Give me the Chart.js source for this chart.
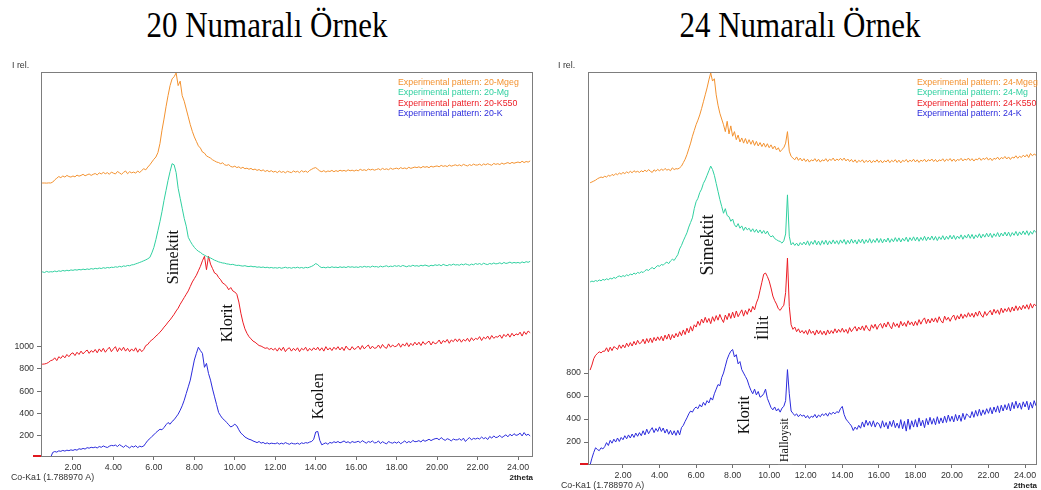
<!DOCTYPE html>
<html>
<head>
<meta charset="utf-8">
<script src="https://cdn.jsdelivr.net/npm/chart.js"></script>
<style>
  body { margin: 0; background: #fff; width: 1041px; height: 490px; overflow: hidden; position: relative; }
  .title { position: absolute; top: 5px; font-family: "Liberation Serif", "Times New Roman", serif; font-size: 31px; color: #000;
           text-align: center; white-space: nowrap; transform: scaleY(1.14); transform-origin: top; }
  canvas { position: absolute; }
</style>
</head>
<body>
<div class="title" style="left:117px;width:300px">20 Numaralı Örnek</div>
<div class="title" style="left:650px;width:300px">24 Numaralı Örnek</div>
<canvas id="c20" width="540" height="435" style="left:0;top:55px"></canvas>
<canvas id="c24" width="496" height="435" style="left:545px;top:55px"></canvas>
<script>
// 2theta grid, 0.2 .. 24.6 step 0.1
var twoTheta = []
for (let i = 0; i < 245; i++) twoTheta.push(Math.round((0.2 + i * 0.1) * 10) / 10)

const xTicks = [2, 4, 6, 8, 10, 12, 14, 16, 18, 20, 22, 24]
const yTicks20 = [200, 400, 600, 800, 1000]
const yTicks24 = [200, 400, 600, 800]

const names20 = ['Experimental pattern: 20-Mgeg', 'Experimental pattern: 20-Mg', 'Experimental pattern: 20-K550', 'Experimental pattern: 20-K']
const names24 = ['Experimental pattern: 24-Mgeg', 'Experimental pattern: 24-Mg', 'Experimental pattern: 24-K550', 'Experimental pattern: 24-K']
const colors = ['#f39230', '#30d0a0', '#ec1c24', '#2b2bdc']

// ---- sample 20 ----
const mgeg20 = [
  2465,2465,2466,2467,2467,2466,2468,2467,
  2475,2495,2510,2525,2515,2530,2520,2535,2525,2520,
  2530,2522,2538,2528,2535,2545,2532,2540,2548,2535,
  2545,2552,2540,2558,2548,2562,2550,2560,2545,2565,
  2555,2548,2570,2558,2545,2562,2575,2550,2568,2558,
  2565,2555,2575,2560,2580,2595,2585,2610,2630,2655,
  2680,2700,2740,2820,2940,3040,3150,3250,3340,3400,
  3420,3453,3340,3380,3250,3200,3130,3060,2990,2930,
  2880,2840,2800,2780,2745,2735,2710,2700,2690,2675,
  2665,2655,2650,2640,2648,2630,2625,2632,2615,2610,
  2618,2605,2612,2598,2608,2595,2600,2590,2598,2585,
  2592,2580,2588,2575,2585,2570,2580,2568,2578,2565,
  2572,2560,2575,2562,2570,2558,2572,2565,2560,2575,
  2565,2572,2560,2578,2566,2574,2562,2580,2590,2600,
  2605,2590,2575,2568,2578,2565,2575,2570,2580,2568,
  2578,2570,2582,2574,2580,2572,2585,2576,2582,2574,
  2583,2576,2590,2580,2586,2578,2592,2584,2590,2582,
  2588,2595,2584,2598,2588,2594,2586,2600,2590,2596,
  2600,2592,2605,2596,2602,2594,2608,2598,2604,2610,
  2605,2612,2602,2615,2608,2614,2604,2618,2610,2616,
  2620,2612,2625,2616,2622,2614,2628,2618,2624,2630,
  2622,2630,2620,2634,2626,2620,2632,2624,2636,2628,
  2628,2636,2624,2638,2630,2640,2632,2626,2642,2634,
  2640,2632,2646,2636,2644,2650,2640,2652,2644,2650,
  2655,2648,2662,2650,2660,2654,2665
]
const mg20 = [
  1665,1665,1668,1670,1665,1675,1668,1672,
  1670,1678,1672,1680,1675,1683,1678,1685,1680,1688,
  1684,1690,1686,1692,1688,1695,1690,1697,1692,1700,
  1695,1702,1698,1705,1700,1708,1703,1710,1706,1712,
  1710,1716,1712,1720,1715,1724,1720,1728,1725,1733,
  1735,1742,1748,1755,1762,1770,1778,1788,1800,1840,
  1890,1960,2040,2120,2210,2310,2400,2490,2570,2640,
  2630,2560,2420,2330,2240,2150,2080,1980,1945,1915,
  1890,1870,1855,1845,1830,1820,1810,1800,1795,1785,
  1775,1768,1760,1755,1750,1748,1742,1740,1735,1738,
  1732,1728,1730,1725,1722,1726,1720,1718,1722,1716,
  1718,1712,1715,1710,1714,1708,1712,1706,1710,1705,
  1708,1704,1710,1703,1707,1712,1705,1709,1703,1710,
  1706,1712,1705,1710,1704,1711,1707,1713,1720,1730,
  1745,1735,1718,1708,1712,1706,1714,1708,1716,1710,
  1713,1708,1716,1710,1715,1709,1718,1712,1716,1711,
  1715,1710,1718,1712,1720,1714,1718,1712,1722,1716,
  1718,1712,1722,1715,1720,1725,1716,1722,1718,1726,
  1720,1726,1718,1728,1722,1716,1725,1720,1730,1722,
  1726,1720,1730,1724,1732,1726,1720,1730,1725,1734,
  1728,1735,1725,1738,1730,1726,1736,1730,1740,1732,
  1735,1730,1740,1733,1742,1736,1730,1740,1734,1745,
  1738,1745,1735,1748,1740,1736,1746,1740,1750,1742,
  1745,1752,1742,1755,1746,1750,1758,1748,1755,1750,
  1755,1748,1760,1752,1762,1756,1765
]
const k550_20 = [
  840,840,842,843,845,850,860,875,
  880,900,875,910,895,920,900,930,910,935,
  945,920,950,930,960,935,955,970,940,965,
  950,975,945,980,955,985,950,975,995,955,
  980,1000,955,990,965,995,960,985,955,980,
  960,990,950,980,955,975,1010,1020,1045,1060,
  1075,1095,1110,1130,1150,1175,1195,1220,1240,1265,
  1290,1320,1345,1380,1410,1440,1470,1500,1540,1580,
  1610,1640,1680,1720,1770,1810,1690,1810,1740,1700,
  1660,1650,1620,1600,1570,1560,1540,1510,1530,1500,
  1490,1470,1400,1300,1220,1160,1120,1090,1070,1050,
  1040,1025,1010,1005,995,985,990,975,985,970,
  985,960,990,965,995,955,980,990,960,985,
  965,990,955,985,970,995,960,985,965,990,
  970,995,965,990,960,1000,970,990,965,995,
  975,1000,970,995,965,1005,980,970,1000,975,
  985,1005,975,1010,980,1000,1015,980,1005,985,
  990,1015,985,1020,995,985,1025,995,1015,1000,
  1005,1030,995,1025,1005,1035,1000,1030,1010,1040,
  1015,1040,1010,1045,1020,1035,1050,1015,1045,1025,
  1035,1060,1025,1055,1040,1065,1030,1060,1045,1070,
  1045,1070,1040,1065,1050,1075,1045,1080,1055,1075,
  1065,1090,1055,1085,1070,1095,1065,1100,1075,1090,
  1085,1105,1075,1110,1090,1115,1085,1120,1095,1115,
  1105,1130,1095,1135,1110,1140,1125
]
const k20 = [
  null,null,null,null,null,null,null,8,
  52,60,55,66,62,70,64,72,68,75,
  70,78,72,85,80,88,82,95,90,98,
  94,100,92,105,98,110,102,96,108,115,
  112,118,105,122,110,98,115,104,92,108,
  100,112,95,108,102,110,135,160,175,195,
  210,230,245,260,255,275,300,320,305,330,
  345,370,395,430,470,520,580,640,700,790,
  880,940,995,965,940,815,850,760,700,620,
  550,480,410,380,355,340,320,300,280,290,
  305,290,255,225,210,190,180,170,165,155,
  148,140,150,135,142,130,138,128,135,132,
  130,138,126,135,128,140,132,125,136,130,
  128,135,125,138,132,140,136,145,150,170,
  235,240,160,120,130,138,125,142,135,148,
  140,150,138,145,155,140,148,135,150,142,
  145,152,140,158,146,135,150,142,155,138,
  140,155,132,148,138,128,150,140,135,145,
  135,148,130,142,155,138,150,140,160,148,
  150,158,145,165,152,160,170,158,168,175,
  178,165,185,170,160,175,168,155,172,165,
  165,175,160,180,150,170,185,165,178,172,
  180,172,190,175,185,168,195,180,200,185,
  190,205,185,198,210,192,215,200,220,205,
  210,225,200,230,205,215,200
]

// ---- sample 24 ----
const mgeg24 = [
  2455,2462,2470,2478,2490,2498,2505,2500,
  2512,2505,2520,2512,2528,2518,2535,2525,2540,2530,
  2545,2535,2550,2540,2555,2542,2560,2548,2555,2545,
  2560,2550,2565,2552,2570,2555,2545,2568,2555,2572,
  2558,2575,2562,2580,2565,2572,2560,2585,2570,2578,
  2575,2585,2600,2630,2660,2700,2750,2800,2860,2910,
  2960,3000,3045,3100,3160,3220,3280,3350,3410,3340,
  3360,3220,3130,3060,3010,2960,2900,2990,2880,2950,
  2860,2900,2830,2870,2810,2845,2800,2840,2795,2830,
  2790,2825,2780,2815,2775,2805,2770,2800,2765,2795,
  2760,2785,2750,2775,2740,2760,2725,2745,2760,2800,
  2900,2730,2685,2670,2655,2680,2650,2670,2645,2665,
  2640,2660,2635,2655,2645,2665,2640,2660,2635,2655,
  2645,2665,2640,2660,2650,2670,2645,2662,2650,2668,
  2650,2670,2645,2662,2640,2658,2635,2655,2630,2650,
  2638,2655,2630,2650,2635,2652,2628,2648,2635,2655,
  2632,2650,2628,2648,2636,2655,2630,2650,2638,2656,
  2632,2652,2628,2650,2640,2658,2634,2652,2640,2660,
  2636,2655,2632,2652,2642,2660,2636,2656,2645,2662,
  2640,2658,2636,2655,2646,2664,2640,2660,2648,2666,
  2642,2662,2640,2658,2650,2668,2645,2662,2652,2670,
  2648,2665,2644,2662,2655,2672,2650,2668,2658,2675,
  2652,2670,2648,2668,2660,2678,2656,2675,2665,2684,
  2662,2680,2658,2678,2670,2690,2668,2686,2675,2695,
  2680,2700,2675,2710,2690,2705,2695
]
const mg24 = [
  1592,1600,1595,1605,1598,1610,1602,1615,
  1608,1620,1612,1625,1618,1632,1624,1638,1645,1636,
  1648,1640,1655,1646,1662,1654,1670,1660,1676,1668,
  1682,1674,1690,1700,1692,1708,1718,1705,1722,1735,
  1728,1745,1738,1755,1765,1752,1775,1790,1780,1805,
  1830,1880,1910,1950,1985,2020,2070,2110,2150,2230,
  2290,2320,2370,2400,2450,2480,2520,2560,2600,2570,
  2520,2450,2380,2310,2250,2190,2230,2170,2160,2120,
  2140,2090,2070,2100,2060,2080,2040,2070,2045,2060,
  2030,2055,2025,2050,2020,2045,2015,2040,2010,2035,
  2000,1985,1995,1970,1960,1950,1945,1930,1950,2010,
  2350,1990,1915,1935,1910,1930,1905,1935,1915,1940,
  1915,1950,1910,1945,1920,1955,1915,1948,1912,1952,
  1920,1955,1915,1950,1922,1958,1925,1952,1920,1958,
  1930,1962,1920,1955,1925,1965,1930,1958,1922,1962,
  1932,1966,1926,1960,1934,1970,1930,1962,1936,1972,
  1935,1970,1932,1966,1940,1975,1936,1968,1942,1978,
  1944,1976,1940,1972,1948,1982,1942,1978,1952,1985,
  1950,1982,1946,1980,1954,1990,1952,1984,1958,1992,
  1956,1988,1952,1986,1962,1995,1958,1990,1964,1998,
  1966,1998,1962,1992,1970,2002,1964,1998,1974,2008,
  1972,2006,1968,2002,1978,2012,1974,2008,1982,2016,
  1984,2016,1978,2012,1988,2022,1984,2018,1992,2026,
  1992,2026,1988,2022,1998,2032,1994,2028,2002,2036,
  2004,2038,1998,2032,2008,2042,2022
]
const k550_24 = [
  826,870,925,955,970,985,975,990,
  990,1020,985,1025,995,1030,1020,1005,1045,1015,
  1045,1020,1060,1030,1065,1035,1075,1045,1085,1055,
  1065,1095,1055,1100,1065,1105,1065,1110,1080,1115,
  1085,1120,1080,1130,1095,1140,1090,1135,1105,1145,
  1115,1160,1125,1175,1135,1190,1150,1205,1165,1220,
  1200,1250,1215,1270,1235,1285,1240,1275,1230,1290,
  1250,1300,1260,1310,1270,1240,1305,1265,1320,1275,
  1330,1280,1340,1290,1320,1350,1295,1345,1310,1360,
  1330,1380,1350,1410,1450,1520,1590,1660,1670,1640,
  1600,1540,1470,1430,1400,1360,1345,1370,1390,1500,
  1800,1380,1220,1180,1200,1160,1185,1150,1170,1145,
  1170,1135,1180,1145,1165,1130,1175,1140,1170,1135,
  1165,1130,1175,1140,1170,1145,1185,1150,1180,1155,
  1190,1155,1180,1145,1195,1160,1185,1205,1165,1200,
  1175,1210,1170,1215,1185,1165,1220,1190,1225,1180,
  1215,1230,1190,1235,1200,1245,1210,1185,1240,1205,
  1230,1195,1250,1210,1240,1205,1255,1220,1245,1210,
  1250,1215,1265,1225,1260,1280,1230,1270,1235,1275,
  1245,1280,1240,1290,1255,1235,1295,1260,1285,1250,
  1285,1305,1260,1300,1270,1315,1275,1310,1285,1325,
  1290,1320,1285,1330,1295,1340,1305,1285,1335,1300,
  1325,1345,1305,1355,1320,1350,1310,1365,1325,1360,
  1335,1370,1330,1375,1340,1385,1345,1380,1350,1390,
  1360,1395,1355,1405,1365,1400,1385
]
const k24 = [
  0,60,110,150,135,125,150,140,
  160,195,170,215,190,225,200,235,205,240,
  220,255,228,262,235,270,240,278,250,282,
  255,298,262,312,272,302,325,282,318,292,
  332,292,322,278,312,268,302,262,298,258,
  302,262,325,345,380,410,445,470,460,490,
  505,490,525,505,545,520,560,540,585,565,
  620,660,700,690,760,800,860,920,960,990,
  1005,940,960,880,900,830,800,770,740,690,
  650,620,660,610,640,590,600,620,660,580,
  540,500,480,505,470,490,460,495,510,560,
  830,620,470,450,430,445,420,440,425,435,
  410,430,405,425,415,440,410,435,420,445,
  430,450,425,455,440,460,445,465,455,490,
  510,440,400,380,360,340,300,330,310,345,
  320,375,330,390,345,380,335,385,330,370,
  360,320,385,330,370,315,380,335,390,325,
  365,320,395,315,380,295,400,310,385,330,
  395,330,410,340,390,325,405,350,415,355,
  405,350,420,360,410,365,425,370,435,380,
  425,375,440,385,435,380,450,395,445,430,
  410,465,415,475,425,485,430,480,440,490,
  450,500,445,505,460,515,455,520,470,525,
  480,535,470,545,490,555,495,540,485,550,
  505,555,480,545,495,560,515
]

const smallFont = '"Liberation Sans", Arial, sans-serif'

function points(vals) {
    return vals.map((v, i) => ({ x: twoTheta[i], y: v }))
}

// frame, axis captions, legend and peak names
const decor = {
    id: 'decor',
    afterDraw(chart, args, o) {
        const ctx = chart.ctx
        const a = chart.chartArea
        const xs = chart.scales.x, ys = chart.scales.y
        ctx.save()
        ctx.strokeStyle = '#7d7d7d'
        ctx.lineWidth = 1
        ctx.strokeRect(Math.round(a.left) - 0.5, Math.round(a.top) - 0.5, Math.round(a.right - a.left) + 1, Math.round(a.bottom - a.top) + 1)

        ctx.strokeStyle = '#e0181f'
        ctx.lineWidth = 2
        ctx.beginPath()
        ctx.moveTo(a.left - 9, a.bottom)
        ctx.lineTo(a.left - 1, a.bottom)
        ctx.stroke()

        ctx.fillStyle = '#333'
        ctx.textBaseline = 'middle'
        ctx.textAlign = 'left'
        ctx.font = '8.8px ' + smallFont
        ctx.fillText('I rel.', o.relX, a.top - 7)
        ctx.fillText('Co-Ka1 (1.788970 A)', o.coX, a.bottom + 21.5)
        ctx.textAlign = 'right'
        ctx.font = 'bold 8px ' + smallFont
        ctx.fillStyle = '#222'
        ctx.fillText('2theta', a.right + 1, a.bottom + 22)

        ctx.textAlign = 'left'
        ctx.font = '8.8px ' + smallFont
        chart.data.datasets.forEach((d, i) => {
            ctx.fillStyle = d.borderColor
            ctx.fillText(d.label, a.right + o.legendDx, a.top + 9.5 + i * 10.3)
        })

        o.notes.forEach(n => {
            const px = xs.getPixelForValue(n.x)
            const py = ys.getPixelForValue(n.y)
            ctx.save()
            ctx.translate(px, py)
            ctx.rotate(-Math.PI / 2)
            ctx.font = n.size + 'px "Liberation Serif", "Times New Roman", serif'
            ctx.textAlign = 'center'
            ctx.textBaseline = 'middle'
            if (n.bg) {
                const w = ctx.measureText(n.text).width
                ctx.fillStyle = '#fff'
                ctx.fillRect(-w / 2 - 2, -n.size / 2 - 1, w + 4, n.size + 2)
            }
            ctx.fillStyle = '#111'
            ctx.fillText(n.text, 0, 0)
            ctx.restore()
        })
        ctx.restore()
    }
}

function makeChart(id, series, names, s) {
    return new Chart(document.getElementById(id), {
        type: 'line',
        data: {
            datasets: series.map((vals, i) => ({
                label: names[i],
                data: points(vals),
                borderColor: colors[i],
                backgroundColor: colors[i],
                borderWidth: 1,
                pointRadius: 0,
                tension: 0,
                fill: false
            }))
        },
        options: {
            responsive: false,
            animation: false,
            devicePixelRatio: 1,
            layout: { padding: { top: 18, right: s.padRight, left: 0, bottom: 0 } },
            plugins: {
                legend: { display: false },
                tooltip: { enabled: false },
                decor: { relX: s.relX, coX: s.coX, legendDx: s.legendDx, notes: s.notes }
            },
            scales: {
                x: {
                    type: 'linear',
                    min: s.xMin,
                    max: s.xMax,
                    afterBuildTicks: axis => { axis.ticks = xTicks.map(v => ({ value: v })) },
                    afterFit: axis => { axis.height = s.xAxisH },
                    grid: { drawOnChartArea: false, drawTicks: true, tickLength: 4, color: '#6f6f6f' },
                    border: { display: false },
                    ticks: {
                        autoSkip: false, maxRotation: 0, padding: 2, color: '#333',
                        font: { family: smallFont, size: 8.8 },
                        callback: v => Number(v).toFixed(2)
                    }
                },
                y: {
                    min: s.yMin,
                    max: s.yMax,
                    afterBuildTicks: axis => { axis.ticks = s.yTicks.map(v => ({ value: v })) },
                    afterFit: axis => { axis.width = s.yAxisW },
                    grid: { drawOnChartArea: false, drawTicks: true, tickLength: 5, color: '#6f6f6f' },
                    border: { display: false },
                    ticks: {
                        padding: 3, color: '#333',
                        font: { family: smallFont, size: 8.8 },
                        callback: v => String(v)
                    }
                }
            }
        },
        plugins: [decor]
    })
}

makeChart('c20', [mgeg20, mg20, k550_20, k20], names20, {
    xMin: 0.47, xMax: 24.69, yMin: 20, yMax: 3453, yTicks: yTicks20,
    padRight: 8, yAxisW: 42, xAxisH: 34,
    relX: 12, coX: 11, legendDx: -134,
    notes: [
        { text: 'Simektit', x: 6.96, y: 1803, size: 16 },
        { text: 'Klorit', x: 9.63, y: 1211, size: 16 },
        { text: 'Kaolen', x: 14.13, y: 556, size: 16 }
    ]
})

makeChart('c24', [mgeg24, mg24, k550_24, k24], names24, {
    xMin: 0.14, xMax: 24.6, yMin: 9, yMax: 3410, yTicks: yTicks24,
    padRight: 5, yAxisW: 44, xAxisH: 26,
    relX: 13, coX: 16, legendDx: -119,
    notes: [
        { text: 'Simektit', x: 6.65, y: 1914, size: 18 },
        { text: 'İllit', x: 9.71, y: 1192, size: 17 },
        { text: 'Klorit', x: 8.68, y: 435, size: 16 },
        { text: 'Halloysit', x: 10.86, y: 217, size: 12, bg: true }
    ]
})
</script>
</body>
</html>
